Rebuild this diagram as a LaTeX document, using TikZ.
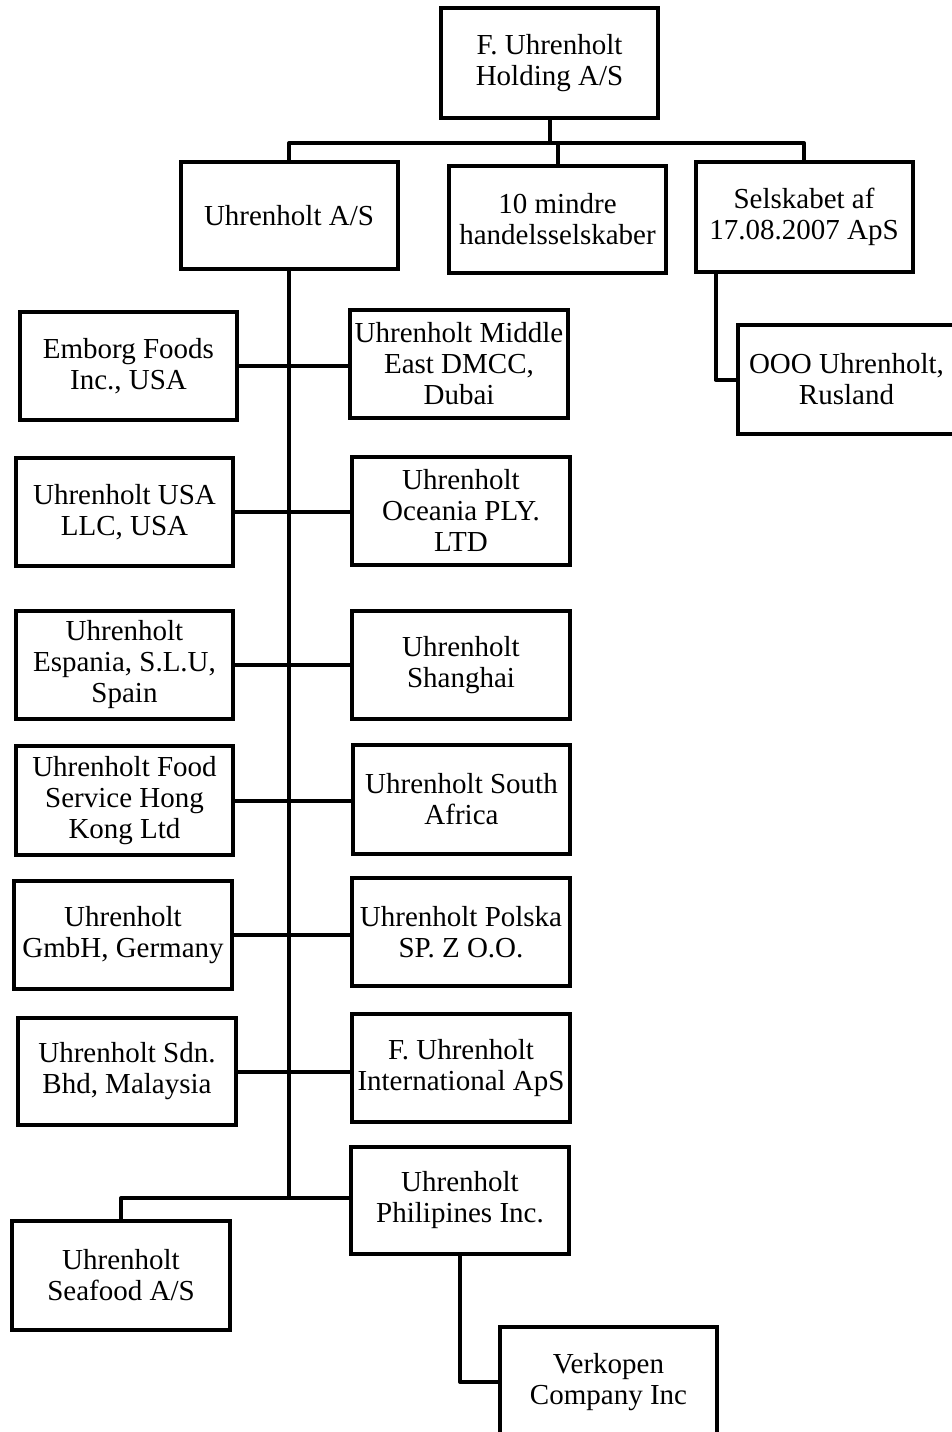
\documentclass[tikz,border=0pt]{standalone}
\usepackage{fontspec}
\setmainfont{Liberation Serif}
\begin{document}
\begin{tikzpicture}[x=1pt,y=-1pt,
  box/.style={draw, line width=4pt, rectangle, minimum width=217pt, minimum height=108pt,
    inner sep=0pt, align=center, font=\fontsize{29}{31}\selectfont},
  link/.style={line width=4pt, line join=round}]
\useasboundingbox (0,0) rectangle (952,1432);
\node[box, minimum height=110pt] (hold) at (549.5,63) {F. Uhrenholt\\Holding A/S};
\node[box, minimum height=107pt] (uas) at (289,215.5) {Uhrenholt A/S};
\node[box, minimum height=107pt] (mindre) at (557.5,219.5) {10 mindre\\handelsselskaber};
\node[box, minimum height=110pt] (selsk) at (804,217) {Selskabet af\\17.08.2007 ApS};
\node[box, minimum height=109pt] (ooo) at (846.5,379.5) {OOO Uhrenholt,\\Rusland};
\node[box] (emborg) at (128.5,366) {Emborg Foods\\Inc., USA};
\node[box, minimum width=218pt] (mideast) at (459,364) {Uhrenholt Middle\\East DMCC,\\Dubai};
\node[box] (usa) at (124.5,512) {Uhrenholt USA\\LLC, USA};
\node[box, minimum width=218pt] (oceania) at (461,510.5) {Uhrenholt\\Oceania PLY.\\LTD};
\node[box] (espania) at (124.5,665) {Uhrenholt\\Espania, S.L.U,\\Spain};
\node[box, minimum width=218pt] (shanghai) at (461,665) {Uhrenholt\\Shanghai};
\node[box, minimum height=109pt] (food) at (124.5,800.5) {Uhrenholt Food\\Service Hong\\Kong Ltd};
\node[box, minimum height=109pt] (safrica) at (461.5,799.5) {Uhrenholt South\\Africa};
\node[box, minimum width=218pt] (gmbh) at (123,935) {Uhrenholt\\GmbH, Germany};
\node[box, minimum width=218pt] (polska) at (461,932) {Uhrenholt Polska\\SP. Z O.O.};
\node[box, minimum width=218pt, minimum height=107pt] (sdn) at (127,1071.5) {Uhrenholt Sdn.\\Bhd, Malaysia};
\node[box, minimum width=218pt] (intl) at (461,1068) {F. Uhrenholt\\International ApS};
\node[box, minimum width=218pt, minimum height=107pt] (phil) at (460,1200.5) {Uhrenholt\\Philipines Inc.};
\node[box, minimum width=218pt, minimum height=109pt] (seafood) at (121,1275.5) {Uhrenholt\\Seafood A/S};
\node[box, minimum height=110pt] (verk) at (608.5,1382) {Verkopen\\Company Inc};
% top connectors
\draw[link] (hold.south) -- ++(0,23) coordinate (hj);
\draw[link] (hj) -| (uas.north);
\draw[link] (hj) -| (selsk.north);
\draw[link] (mindre.north) -- (mindre.north |- hj);
\draw[link] ([xshift=22pt]selsk.south west) |- (ooo.west);
% trunk
\coordinate (tb) at (289,1198);
\draw[link] (uas.south) -- (tb);
\draw[link] (emborg.east) -- (emborg.east -| mideast.west);
\draw[link] (usa.east) -- (usa.east -| oceania.west);
\draw[link] (espania.east) -- (espania.east -| shanghai.west);
\draw[link] (food.east) -- (food.east -| safrica.west);
\draw[link] (gmbh.east) -- (gmbh.east -| polska.west);
\draw[link] (sdn.east) -- (sdn.east -| intl.west);
\draw[link] (seafood.north) |- (tb) -- (tb -| phil.west);
\draw[link] (phil.south) |- (verk.west);
\end{tikzpicture}
\end{document}
